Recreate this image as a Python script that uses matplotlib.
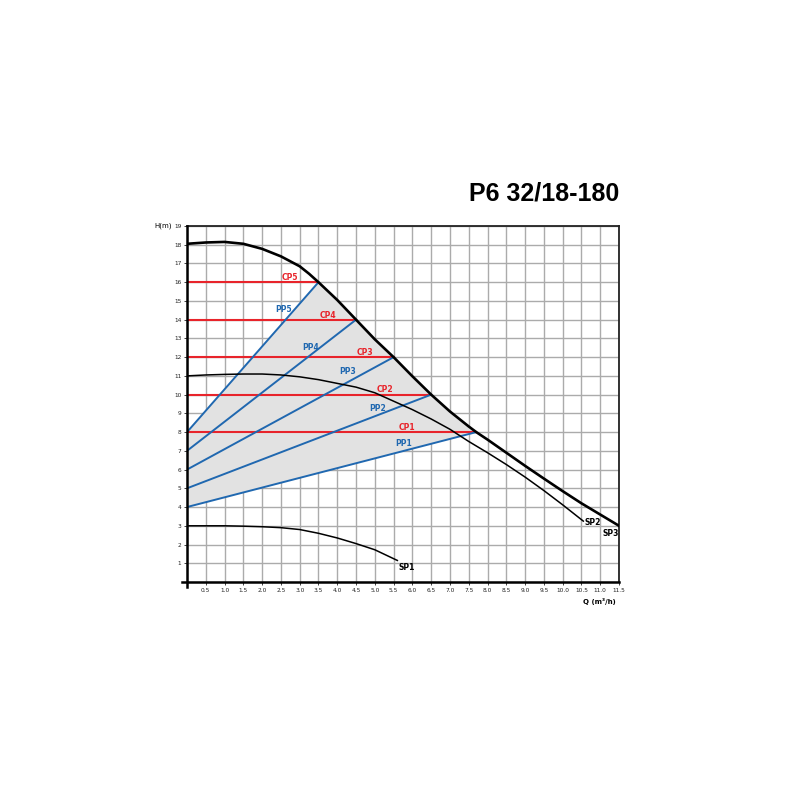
import numpy as np
import matplotlib.pyplot as plt

# pump curves, Q in m3/h, H in m
sp3_q = [0, 0.5, 1.0, 1.5, 2.0, 2.5, 3.0, 3.25, 3.5, 4.0, 4.5, 5.0, 5.5, 6.0, 6.5, 7.0, 7.5, 7.7,
         8.0, 8.5, 9.0, 9.5, 10.0, 10.5, 11.0, 11.5]
sp3_h = [18.05, 18.12, 18.15, 18.05, 17.78, 17.38, 16.85, 16.45, 16.0, 15.05, 14.0, 12.95, 12.0,
         10.98, 10.0, 9.1, 8.3, 8.0, 7.6, 6.9, 6.2, 5.52, 4.85, 4.2, 3.6, 3.0]
sp2_q = [0, 0.5, 1.0, 1.5, 2.0, 2.5, 3.0, 3.5, 4.0, 4.5, 5.0, 5.5, 6.0, 6.5, 7.0, 7.5,
         8.0, 8.5, 9.0, 9.5, 10.0, 10.55]
sp2_h = [11.0, 11.05, 11.08, 11.1, 11.1, 11.05, 10.95, 10.8, 10.6, 10.4, 10.1, 9.65, 9.2,
         8.7, 8.15, 7.5, 6.9, 6.27, 5.6, 4.88, 4.12, 3.25]
sp1_q = [0, 0.5, 1.0, 1.5, 2.0, 2.5, 3.0, 3.5, 4.0, 4.5, 5.0, 5.6]
sp1_h = [3.0, 3.0, 3.0, 2.98, 2.95, 2.9, 2.8, 2.6, 2.35, 2.05, 1.72, 1.15]

# constant pressure lines (height, end flow)
cp_h = [8, 10, 12, 14, 16]
cp_end = [7.7, 6.5, 5.5, 4.5, 3.5]
# proportional pressure lines (start height at Q=0 -> end point)
pp_start = [4, 5, 6, 7, 8]
pp_end_q = [7.7, 6.5, 5.5, 4.5, 3.5]
pp_end_h = [8, 10, 12, 14, 16]

cp_labels = ['CP1', 'CP2', 'CP3', 'CP4', 'CP5']
cp_lab_q = [5.86, 5.28, 4.75, 3.76, 2.75]
cp_lab_h = [8.27, 10.3, 12.27, 14.24, 16.27]
pp_labels = ['PP1', 'PP2', 'PP3', 'PP4', 'PP5']
pp_lab_q = [5.77, 5.07, 4.27, 3.28, 2.56]
pp_lab_h = [7.4, 9.28, 11.25, 12.53, 14.55]

red = '#e8242b'
blue = '#2068b0'

fig = plt.figure(figsize=(8, 8), dpi=100)
ax = fig.add_axes([0.23375, 0.2725, 0.54, 0.445])
ax.set_xlim(0, 11.5)
ax.set_ylim(0, 19)

ax.set_xticks(np.arange(0, 11.51, 0.5))
ax.set_yticks(np.arange(0, 20, 1))
ax.grid(True, color='#ababab', lw=1.0)
ax.set_axisbelow(True)
ax.set_xticklabels([''] + ['%.1f' % v for v in np.arange(0.5, 11.51, 0.5)])
ax.set_yticklabels([''] + [str(v) for v in range(1, 20)])
ax.tick_params(axis='both', labelsize=4.2, length=2, width=0.6, pad=2, colors='#222222')

# shaded operating area: PP1 -> SP3 -> PP5 -> axis
sel = [i for i in range(len(sp3_q)) if pp_end_q[4] <= sp3_q[i] <= pp_end_q[0]]
poly_q = [0, pp_end_q[0]] + [sp3_q[i] for i in reversed(sel)] + [0]
poly_h = [pp_start[0], pp_end_h[0]] + [sp3_h[i] for i in reversed(sel)] + [pp_start[4]]
ax.fill(poly_q, poly_h, color='#e2e2e2', zorder=1, lw=0)

for h, e in zip(cp_h, cp_end):
    ax.plot([0, e], [h, h], color=red, lw=1.5, zorder=3)
for s, eq, eh in zip(pp_start, pp_end_q, pp_end_h):
    ax.plot([0, eq], [s, eh], color=blue, lw=1.4, zorder=3)

ax.plot(sp3_q, sp3_h, color='black', lw=1.9, zorder=4, solid_joinstyle='round')
ax.plot(sp2_q, sp2_h, color='black', lw=1.1, zorder=4, solid_joinstyle='round')
ax.plot(sp1_q, sp1_h, color='black', lw=1.1, zorder=4, solid_joinstyle='round')

for t, q, h in zip(cp_labels, cp_lab_q, cp_lab_h):
    ax.text(q, h, t, color=red, fontsize=5.5, fontweight='bold', ha='center', va='center', zorder=5)
for t, q, h in zip(pp_labels, pp_lab_q, pp_lab_h):
    ax.text(q, h, t, color=blue, fontsize=5.5, fontweight='bold', ha='center', va='center', zorder=5)
ax.text(10.8, 3.2, 'SP2', fontsize=5.5, fontweight='bold', ha='center', va='center', zorder=5)
ax.text(11.28, 2.6, 'SP3', fontsize=5.5, fontweight='bold', ha='center', va='center', zorder=5)
ax.text(5.84, 0.75, 'SP1', fontsize=5.5, fontweight='bold', ha='center', va='center', zorder=5)

for side in ['top', 'right']:
    ax.spines[side].set_linewidth(1.3)
    ax.spines[side].set_color('#222222')
for side in ['left', 'bottom']:
    ax.spines[side].set_visible(False)
ax.plot([0, 0], [-0.015, 1], transform=ax.transAxes, color='black', lw=1.8, clip_on=False, zorder=6)
ax.plot([-0.012, 1], [0, 0], transform=ax.transAxes, color='black', lw=1.8, clip_on=False, zorder=6)

ax.text(-0.035, 1.0, 'H(m)', transform=ax.transAxes, fontsize=5, ha='right', va='center')
ax.text(0.955, -0.055, 'Q (m\u00b3/h)', transform=ax.transAxes, fontsize=5, fontweight='bold',
        ha='center', va='center')
fig.text(0.774, 0.758, 'P6 32/18-180', fontsize=18, fontweight='bold', family='Liberation Sans',
         ha='right', va='center')

fig.savefig('out.png', dpi=100, facecolor='white')
